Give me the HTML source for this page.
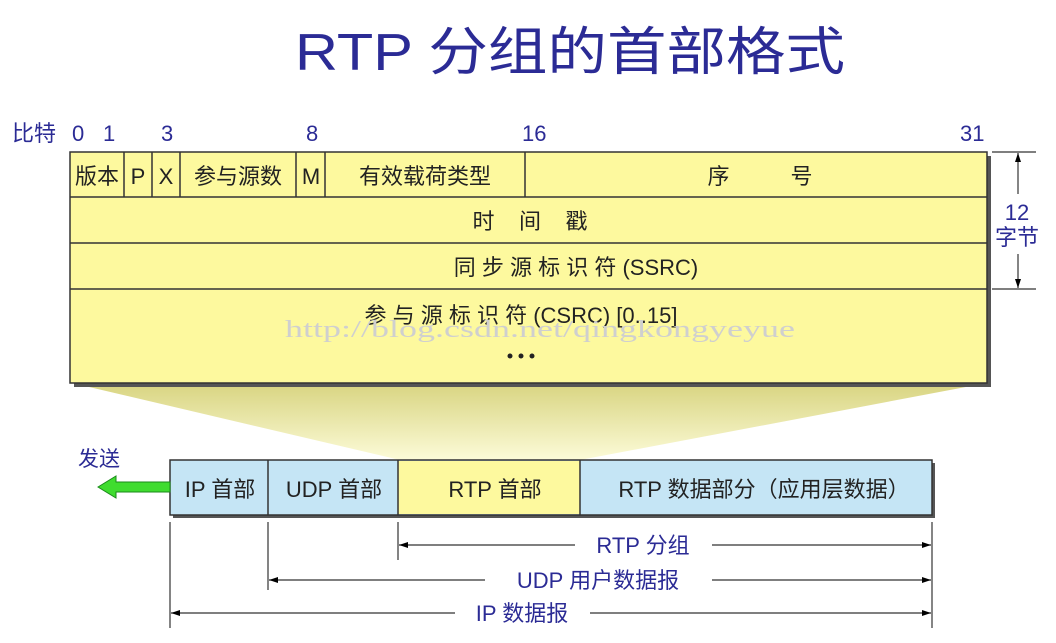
<!DOCTYPE html>
<html><head><meta charset="utf-8"><style>
html,body{margin:0;padding:0;background:#fff;width:1056px;height:643px;overflow:hidden}
svg{display:block}
text{font-family:"Liberation Sans","Noto Sans CJK SC",sans-serif}
</style></head><body>
<svg width="1056" height="643" viewBox="0 0 1056 643" xmlns="http://www.w3.org/2000/svg">
<defs>
<linearGradient id="tg" x1="0" y1="0" x2="0" y2="1">
<stop offset="0" stop-color="#d8d480"/><stop offset="1" stop-color="#fcfbd8"/>
</linearGradient>
<marker id="ah" markerWidth="10" markerHeight="8" refX="9" refY="4" orient="auto-start-reverse" markerUnits="userSpaceOnUse">
<path d="M0,1 L9,4 L0,7 Z" fill="#000"/></marker>
</defs>
<text x="295" y="70" font-size="52" fill="#2b2b95" textLength="550" lengthAdjust="spacingAndGlyphs">RTP 分组的首部格式</text>

<g font-size="22" fill="#2b2b95">
<text x="12" y="141">比特</text>
<text x="72" y="141">0</text><text x="103" y="141">1</text>
<text x="161" y="141">3</text><text x="306" y="141">8</text>
<text x="522" y="141">16</text><text x="960" y="141">31</text>
</g>

<polygon points="72,383 987,383 580,460 400,460" fill="url(#tg)"/>

<rect x="74" y="156" width="917" height="231" fill="#555"/>
<rect x="70" y="152" width="917" height="231" fill="#fdf99e" stroke="#333" stroke-width="1.5"/>
<g stroke="#333" stroke-width="1.5">
<line x1="70" y1="197" x2="987" y2="197"/>
<line x1="70" y1="243" x2="987" y2="243"/>
<line x1="70" y1="289" x2="987" y2="289"/>
<line x1="124" y1="152" x2="124" y2="197"/>
<line x1="152" y1="152" x2="152" y2="197"/>
<line x1="180" y1="152" x2="180" y2="197"/>
<line x1="296" y1="152" x2="296" y2="197"/>
<line x1="325" y1="152" x2="325" y2="197"/>
<line x1="525" y1="152" x2="525" y2="197"/>
</g>
<g font-size="22" fill="#222" text-anchor="middle">
<text x="97" y="184">版本</text><text x="138" y="184">P</text><text x="166" y="184">X</text>
<text x="238" y="184">参与源数</text><text x="311" y="184">M</text>
<text x="425" y="184">有效载荷类型</text>
<text x="760" y="184" xml:space="preserve">序          号</text>
<text x="530" y="229" xml:space="preserve">时    间    戳</text>
<text x="576" y="275" xml:space="preserve">同 步 源 标 识 符 (SSRC)</text>
<text x="521" y="323" xml:space="preserve">参 与 源 标 识 符 (CSRC) [0..15]</text>
</g>
<text x="285" y="337" font-size="24" fill="#cfcfcf" style="font-family:'Liberation Serif',serif" textLength="510" lengthAdjust="spacingAndGlyphs">http://blog.csdn.net/qingkongyeyue</text>
<g fill="#222"><circle cx="510" cy="356" r="2.5"/><circle cx="521" cy="356" r="2.5"/><circle cx="532" cy="356" r="2.5"/></g>

<g stroke="#333" stroke-width="1.2">
<line x1="992" y1="152" x2="1036" y2="152"/>
<line x1="992" y1="289" x2="1036" y2="289"/>
<line x1="1018" y1="153" x2="1018" y2="194" marker-start="url(#ah)"/>
<line x1="1018" y1="254" x2="1018" y2="288" marker-end="url(#ah)"/>
</g>
<text x="1017" y="220" font-size="22" fill="#2b2b95" text-anchor="middle">12</text>
<text x="1017" y="245" font-size="22" fill="#2b2b95" text-anchor="middle">字节</text>

<rect x="173" y="463" width="762" height="55" fill="#555"/>
<rect x="170" y="460" width="762" height="55" fill="#c5e5f5" stroke="#333" stroke-width="1.5"/>
<rect x="398" y="461" width="182" height="53" fill="#fdf99e"/>
<g stroke="#333" stroke-width="1.5">
<line x1="268" y1="460" x2="268" y2="515"/>
<line x1="398" y1="460" x2="398" y2="515"/>
<line x1="580" y1="460" x2="580" y2="515"/>
</g>
<g font-size="22" fill="#222" text-anchor="middle">
<text x="220" y="497">IP 首部</text>
<text x="334" y="497">UDP 首部</text>
<text x="495" y="497">RTP 首部</text>
<text x="764" y="497">RTP 数据部分（应用层数据）</text>
</g>
<text x="78" y="466" font-size="21" fill="#2b2b95">发送</text>
<polygon points="98,487 116,476 116,482 170,482 170,492 116,492 116,498" fill="#3fdc2f" stroke="#1a8a1a" stroke-width="1"/>

<g stroke="#333" stroke-width="1.2">
<line x1="170" y1="522" x2="170" y2="628"/>
<line x1="268" y1="522" x2="268" y2="590"/>
<line x1="398" y1="522" x2="398" y2="560"/>
<line x1="932" y1="522" x2="932" y2="628"/>
<line x1="399" y1="545" x2="575" y2="545" marker-start="url(#ah)"/>
<line x1="712" y1="545" x2="931" y2="545" marker-end="url(#ah)"/>
<line x1="269" y1="580" x2="485" y2="580" marker-start="url(#ah)"/>
<line x1="712" y1="580" x2="931" y2="580" marker-end="url(#ah)"/>
<line x1="171" y1="613" x2="455" y2="613" marker-start="url(#ah)"/>
<line x1="590" y1="613" x2="931" y2="613" marker-end="url(#ah)"/>
</g>
<g font-size="22" fill="#2b2b95" text-anchor="middle">
<text x="643" y="553">RTP 分组</text>
<text x="598" y="588">UDP 用户数据报</text>
<text x="522" y="621">IP 数据报</text>
</g>
</svg>
</body></html>
